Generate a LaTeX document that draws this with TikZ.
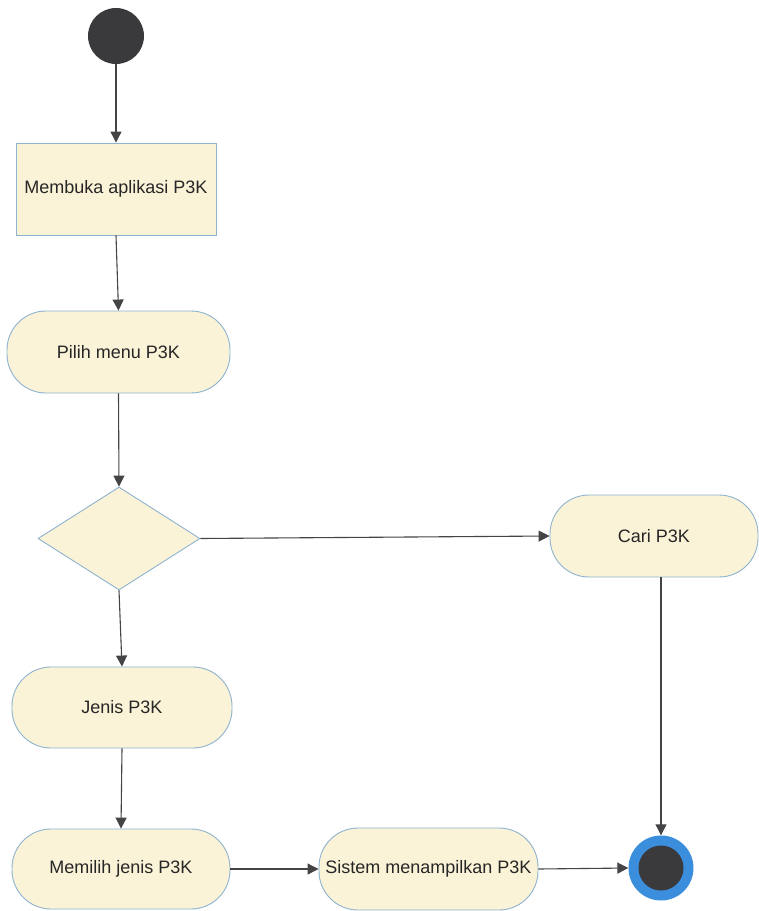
\documentclass[tikz,border=0pt]{standalone}
\usepackage{fontspec}
\setmainfont{Liberation Sans}
\usetikzlibrary{arrows.meta,shapes.geometric}
\definecolor{actfill}{HTML}{FAF3D8}
\definecolor{actline}{HTML}{8DB3CF}
\definecolor{flow}{HTML}{444446}
\definecolor{dot}{HTML}{3A3A3D}
\definecolor{ring}{HTML}{3A8EDB}
\tikzset{
  activity/.style={draw=actline, fill=actfill, line width=0.9pt, inner sep=0pt,
    font=\fontsize{18}{21}\selectfont, text=black!85},
  pill/.style={activity, rectangle, rounded corners=39pt},
  flowline/.style={draw=flow, line width=1.1pt, -{Triangle[length=11pt,width=11pt]}},
}
\begin{document}
\begin{tikzpicture}[x=1pt, y=-1pt]
  \useasboundingbox (0,0) rectangle (759,911);

  % initial state
  \node[circle, fill=dot, minimum size=56pt, inner sep=0pt] (start) at (116,36) {};

  % activities
  \node[activity, rectangle, minimum width=200pt, minimum height=92pt] (open) at (116,189) {Membuka aplikasi P3K};
  \node[pill, minimum width=223pt, minimum height=82pt] (menu) at (118.5,352) {Pilih menu P3K};
  \node[activity, diamond, minimum width=162pt, minimum height=103pt, aspect=1.57] (dec) at (119,538.5) {};
  \node[pill, minimum width=208pt, minimum height=82pt] (cari) at (654,536) {Cari P3K};
  \node[pill, minimum width=220pt, minimum height=81pt] (jenis) at (122,707.5) {Jenis P3K};
  \node[pill, minimum width=218pt, minimum height=80pt] (pilih) at (121,869) {Memilih jenis P3K};
  \node[pill, minimum width=219pt, minimum height=82pt] (sistem) at (428.5,869) {Sistem menampilkan P3K};

  % final state
  \node[circle, fill=ring, minimum size=65pt, inner sep=0pt] (end) at (661,868) {};
  \node[circle, fill=dot, minimum size=45pt, inner sep=0pt] (endcore) at (end.center) {};

  % control flow
  \draw[flowline] (start) -- (open);
  \draw[flowline] (open.south) -- (menu.north);
  \draw[flowline] (menu.south) -- (dec.north);
  \draw[flowline] (dec.east) -- (cari.west);
  \draw[flowline] (dec.south) -- (jenis.north);
  \draw[flowline] (jenis.south) -- (pilih.north);
  \draw[flowline] (pilih.east) -- (sistem.west);
  \draw[flowline] (sistem.east) -- (end.west);
  \draw[flowline] (cari.south -| end.north) -- (end.north);
\end{tikzpicture}
\end{document}
